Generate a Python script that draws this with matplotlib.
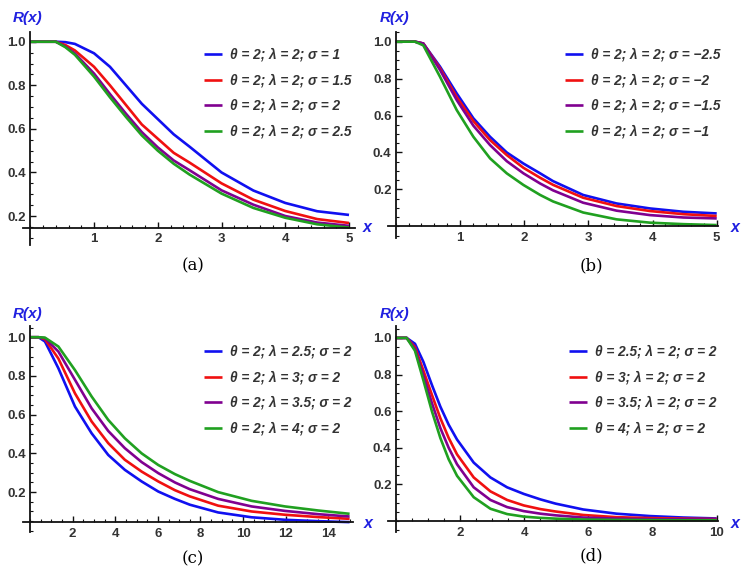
import matplotlib
matplotlib.use("Agg")
import matplotlib.pyplot as plt
from matplotlib.ticker import MultipleLocator, FixedLocator

# ---- data ----
xa = [0, 0.4, 0.55, 0.7, 1.0, 1.25, 1.5, 1.75, 2.0, 2.25, 2.5, 3.0, 3.5, 4.0, 4.5, 5.0]
ra_blue = [1.0, 1.0, 0.998, 0.99, 0.947, 0.885, 0.80, 0.715, 0.645, 0.575, 0.518, 0.40, 0.317, 0.26, 0.222, 0.205]
ra_red = [1.0, 1.0, 0.985, 0.96, 0.885, 0.80, 0.71, 0.62, 0.555, 0.49, 0.445, 0.35, 0.275, 0.223, 0.186, 0.168]
ra_purple = [1.0, 1.0, 0.978, 0.946, 0.854, 0.76, 0.67, 0.585, 0.515, 0.455, 0.41, 0.318, 0.252, 0.20, 0.17, 0.155]
ra_green = [1.0, 1.0, 0.975, 0.94, 0.84, 0.745, 0.655, 0.57, 0.50, 0.44, 0.39, 0.303, 0.237, 0.192, 0.162, 0.147]
labels_a = ["θ = 2; λ = 2; σ = 1", "θ = 2; λ = 2; σ = 1.5",
            "θ = 2; λ = 2; σ = 2", "θ = 2; λ = 2; σ = 2.5"]

xb = [0, 0.3, 0.43, 0.69, 0.95, 1.21, 1.47, 1.73, 1.99, 2.25, 2.45, 2.92, 3.44, 3.96, 4.48, 5.0]
rb_blue = [1, 1, 0.99, 0.865, 0.72, 0.585, 0.485, 0.40, 0.34, 0.287, 0.245, 0.17, 0.124, 0.097, 0.079, 0.07]
rb_red = [1, 1, 0.99, 0.856, 0.70, 0.57, 0.467, 0.386, 0.317, 0.263, 0.225, 0.155, 0.11, 0.083, 0.066, 0.056]
rb_purple = [1, 1, 0.99, 0.847, 0.684, 0.545, 0.44, 0.353, 0.287, 0.232, 0.195, 0.128, 0.085, 0.061, 0.048, 0.043]
rb_green = [1, 1, 0.98, 0.81, 0.63, 0.485, 0.368, 0.287, 0.224, 0.17, 0.135, 0.075, 0.038, 0.02, 0.012, 0.007]
labels_b = ["θ = 2; λ = 2; σ = −2.5", "θ = 2; λ = 2; σ = −2",
            "θ = 2; λ = 2; σ = −1.5", "θ = 2; λ = 2; σ = −1"]

xc = [0, 0.4, 0.7, 1.33, 2.11, 2.89, 3.67, 4.45, 5.24, 6.02, 6.8, 7.5, 8.83, 10.4, 11.97, 13.53, 15]
rc_blue = [1, 1, 0.978, 0.84, 0.642, 0.504, 0.392, 0.315, 0.255, 0.203, 0.165, 0.135, 0.095, 0.07, 0.057, 0.05, 0.045]
rc_red = [1, 1, 0.99, 0.89, 0.71, 0.565, 0.453, 0.367, 0.306, 0.255, 0.21, 0.178, 0.13, 0.10, 0.083, 0.071, 0.062]
rc_purple = [1, 1, 0.995, 0.926, 0.78, 0.633, 0.516, 0.427, 0.355, 0.298, 0.25, 0.215, 0.165, 0.126, 0.103, 0.086, 0.074]
rc_green = [1, 1, 0.998, 0.952, 0.83, 0.694, 0.573, 0.478, 0.40, 0.34, 0.293, 0.258, 0.20, 0.155, 0.126, 0.105, 0.088]
labels_c = ["θ = 2; λ = 2.5; σ = 2", "θ = 2; λ = 3; σ = 2",
            "θ = 2; λ = 3.5; σ = 2", "θ = 2; λ = 4; σ = 2"]

xd = [0, 0.34, 0.6, 0.86, 1.13, 1.39, 1.65, 1.91, 2.43, 2.95, 3.47, 3.99, 4.51, 4.98, 5.84, 6.88, 7.92, 8.96, 10]
rd_blue = [1, 1, 0.968, 0.87, 0.742, 0.625, 0.526, 0.445, 0.319, 0.238, 0.184, 0.148, 0.118, 0.095, 0.063, 0.04, 0.027, 0.019, 0.014]
rd_red = [1, 1, 0.95, 0.823, 0.688, 0.562, 0.454, 0.364, 0.238, 0.162, 0.115, 0.085, 0.065, 0.052, 0.033, 0.021, 0.016, 0.013, 0.011]
rd_purple = [1, 1, 0.94, 0.796, 0.643, 0.508, 0.40, 0.31, 0.184, 0.115, 0.076, 0.054, 0.04, 0.031, 0.019, 0.013, 0.01, 0.009, 0.008]
rd_green = [1, 1, 0.93, 0.77, 0.598, 0.454, 0.337, 0.247, 0.13, 0.067, 0.038, 0.024, 0.017, 0.013, 0.008, 0.006, 0.005, 0.004, 0.004]
labels_d = ["θ = 2.5; λ = 2; σ = 2", "θ = 3; λ = 2; σ = 2",
            "θ = 3.5; λ = 2; σ = 2", "θ = 4; λ = 2; σ = 2"]

colors = ["#1010F0", "#F01010", "#800090", "#20A020"]

W, H = 747, 578
fig = plt.figure(figsize=(W / 100, H / 100), dpi=100)


def px_rect(left, right, top, bottom):
    return [left / W, 1 - bottom / H, (right - left) / W, (bottom - top) / H]


def panel(rect, xlim, ylim, base_y, x, series, labels, xmaj, xmin_, leg_xy, rx_xy, xl_xy, cap, cap_xy):
    ax = fig.add_axes(px_rect(*rect))
    for y, c, lab in zip(series, colors, labels):
        ax.plot(x, y, color=c, lw=1.9, label=lab, solid_capstyle="butt")
    ax.set_xlim(*xlim)
    ax.set_ylim(*ylim)
    ax.patch.set_alpha(0)
    for s in ["top", "right"]:
        ax.spines[s].set_visible(False)
    ax.spines["left"].set_position(("data", 0))
    ax.spines["bottom"].set_position(("data", base_y))
    for s in ["left", "bottom"]:
        ax.spines[s].set_linewidth(1.3)
        ax.spines[s].set_color("#111111")
    ax.xaxis.set_major_locator(MultipleLocator(xmaj))
    ax.xaxis.set_minor_locator(MultipleLocator(xmin_))
    ax.yaxis.set_major_locator(FixedLocator([0.2, 0.4, 0.6, 0.8, 1.0]))
    ax.yaxis.set_minor_locator(MultipleLocator(0.05))
    ax.tick_params(which="major", direction="in", length=4, width=1, color="#111111")
    ax.tick_params(which="minor", direction="in", length=2, width=0.8, color="#111111")
    ax.set_xticks([t for t in ax.get_xticks() if t > 0 and t <= xlim[1]])
    ax.set_xticklabels([f"{t:g}" for t in ax.get_xticks()])
    ax.set_yticklabels(["0.2", "0.4", "0.6", "0.8", "1.0"])
    for lbl in ax.get_xticklabels() + ax.get_yticklabels():
        lbl.set_fontweight("bold")
        lbl.set_fontsize(9.5)
        lbl.set_color("#333333")
        lbl.set_family("Liberation Sans")
    ax.tick_params(axis="y", pad=3)
    ax.tick_params(axis="x", pad=4)
    leg = ax.legend(loc="upper left", bbox_to_anchor=(leg_xy[0] / W, 1 - leg_xy[1] / H),
                    bbox_transform=fig.transFigure, frameon=False, borderpad=0,
                    handlelength=1.3, handletextpad=0.6, labelspacing=0.85,
                    prop={"family": "Liberation Sans", "weight": "bold", "style": "italic", "size": 9.8})
    for t in leg.get_texts():
        t.set_color("#333333")
    fig.text(rx_xy[0] / W, 1 - rx_xy[1] / H, "R(x)", color="#2020E0", fontsize=11,
             fontweight="bold", fontstyle="italic", family="Liberation Sans", ha="center", va="center")
    fig.text(xl_xy[0] / W, 1 - xl_xy[1] / H, "x", color="#2020E0", fontsize=11.5,
             fontweight="bold", fontstyle="italic", family="Liberation Sans", ha="center", va="center")
    fig.text(cap_xy[0] / W, 1 - cap_xy[1] / H, cap, fontsize=12, family="DejaVu Serif",
             ha="center", va="center")
    return ax


panel((23, 355, 31.7, 245), (-0.114, 5.094), (0.067, 1.046), 0.147, xa,
      [ra_blue, ra_red, ra_purple, ra_green], labels_a, 1, 0.2,
      (197, 41), (28, 18), (367, 228), "(a)", (193, 266))
panel((388, 718, 31.7, 238), (-0.12, 5.02), (-0.063, 1.054), 0.0, xb,
      [rb_blue, rb_red, rb_purple, rb_green], labels_b, 1, 0.2,
      (558, 41), (395, 18), (735, 228), "(b)", (591, 266))
panel((23, 353, 326, 532), (-0.33, 15.16), (-0.006, 1.058), 0.045, xc,
      [rc_blue, rc_red, rc_purple, rc_green], labels_c, 2, 0.5,
      (197, 338), (28, 314), (368, 523), "(c)", (193, 559))
panel((388, 718, 326, 532), (-0.24, 10.04), (-0.06, 1.065), 0.0, xd,
      [rd_blue, rd_red, rd_purple, rd_green], labels_d, 2, 0.5,
      (562, 338), (395, 314), (735, 523), "(d)", (591, 556))

fig.savefig("out.png", dpi=100)
